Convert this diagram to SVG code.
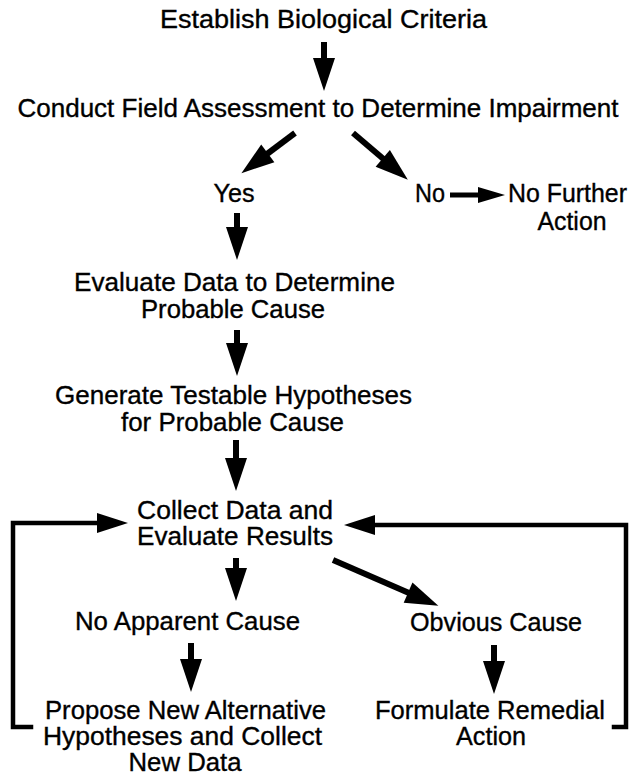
<svg xmlns="http://www.w3.org/2000/svg" width="636" height="776" viewBox="0 0 636 776">
  <defs>
    <style>
      text { font-family: "Liberation Sans", Arial, "Helvetica", sans-serif; font-size: 25.5px; fill: #000; stroke: #000; stroke-width: 0.35; text-anchor: middle; }
      .shaft { stroke: #000; stroke-width: 6; fill: none; stroke-linecap: butt; }
      .bracket { stroke: #000; stroke-width: 4.5; fill: none; stroke-linejoin: miter; stroke-linecap: square; }
    </style>
    <marker id="head" markerUnits="userSpaceOnUse" markerWidth="34" markerHeight="22" refX="1" refY="11" orient="auto" overflow="visible">
      <path d="M0,0 L33,11 L0,22 Z" fill="#000"/>
    </marker>
    <marker id="headB" markerUnits="userSpaceOnUse" markerWidth="32" markerHeight="20" refX="1" refY="10" orient="auto" overflow="visible">
      <path d="M0,0 L31,10 L0,20 Z" fill="#000"/>
    </marker>
    <marker id="headS" markerUnits="userSpaceOnUse" markerWidth="28" markerHeight="16" refX="1" refY="8" orient="auto" overflow="visible">
      <path d="M0,0 L27,8 L0,16 Z" fill="#000"/>
    </marker>
  </defs>

  <g id="connectors">
    <!-- Establish -> Conduct -->
    <line class="shaft" x1="324" y1="42" x2="324" y2="59" marker-end="url(#head)"/>
    <!-- Conduct -> Yes -->
    <line class="shaft" x1="295" y1="133" x2="267" y2="154" marker-end="url(#head)"/>
    <!-- Conduct -> No -->
    <line class="shaft" x1="353" y1="133" x2="383.5" y2="159" marker-end="url(#head)"/>
    <!-- No -> No Further Action -->
    <line class="shaft" x1="450" y1="195" x2="479" y2="195" marker-end="url(#headS)" style="stroke-width:5"/>
    <!-- Yes -> Evaluate -->
    <line class="shaft" x1="237" y1="213" x2="237" y2="228" marker-end="url(#head)"/>
    <!-- Evaluate -> Generate -->
    <line class="shaft" x1="237" y1="330" x2="237" y2="344" marker-end="url(#head)"/>
    <!-- Generate -> Collect -->
    <line class="shaft" x1="236" y1="440" x2="236" y2="459" marker-end="url(#head)"/>
    <!-- Collect -> No Apparent Cause -->
    <line class="shaft" x1="236" y1="558" x2="236" y2="569" marker-end="url(#head)"/>
    <!-- Collect -> Obvious Cause -->
    <line class="shaft" x1="333" y1="560" x2="409" y2="593" marker-end="url(#head)"/>
    <!-- No Apparent Cause -> Propose -->
    <line class="shaft" x1="191" y1="643" x2="191" y2="660" marker-end="url(#head)"/>
    <!-- Obvious Cause -> Formulate -->
    <line class="shaft" x1="494" y1="645" x2="494" y2="662" marker-end="url(#head)"/>
    <!-- Propose -> Collect (loop back, left) -->
    <polyline class="bracket" points="31,727 13,727 13,523 98,523" marker-end="url(#headB)"/>
    <!-- Formulate -> Collect (loop back, right) -->
    <polyline class="bracket" points="614,727 626,727 626,525 374,525" marker-end="url(#headB)"/>
  </g>

  <g id="establish"><text x="323.5" y="28" textLength="327" lengthAdjust="spacingAndGlyphs">Establish Biological Criteria</text></g>
  <g id="conduct"><text x="318" y="117" textLength="601" lengthAdjust="spacingAndGlyphs">Conduct Field Assessment to Determine Impairment</text></g>
  <g id="yes"><text x="234" y="202" textLength="41" lengthAdjust="spacingAndGlyphs">Yes</text></g>
  <g id="no"><text x="430" y="202" textLength="30" lengthAdjust="spacingAndGlyphs">No</text></g>
  <g id="no-further-action">
    <text x="567.5" y="202" textLength="119" lengthAdjust="spacingAndGlyphs">No Further</text>
    <text x="572" y="230" textLength="69" lengthAdjust="spacingAndGlyphs">Action</text>
  </g>
  <g id="evaluate-data">
    <text x="234.5" y="291" textLength="321" lengthAdjust="spacingAndGlyphs">Evaluate Data to Determine</text>
    <text x="233" y="318" textLength="184" lengthAdjust="spacingAndGlyphs">Probable Cause</text>
  </g>
  <g id="generate">
    <text x="233.5" y="404" textLength="357" lengthAdjust="spacingAndGlyphs">Generate Testable Hypotheses</text>
    <text x="232.5" y="431" textLength="223" lengthAdjust="spacingAndGlyphs">for Probable Cause</text>
  </g>
  <g id="collect">
    <text x="235" y="519" textLength="196" lengthAdjust="spacingAndGlyphs">Collect Data and</text>
    <text x="235" y="545" textLength="196" lengthAdjust="spacingAndGlyphs">Evaluate Results</text>
  </g>
  <g id="no-apparent-cause"><text x="187.5" y="630" textLength="225" lengthAdjust="spacingAndGlyphs">No Apparent Cause</text></g>
  <g id="obvious-cause"><text x="496" y="631" textLength="172" lengthAdjust="spacingAndGlyphs">Obvious Cause</text></g>
  <g id="propose">
    <text x="185.5" y="719" textLength="281" lengthAdjust="spacingAndGlyphs">Propose New Alternative</text>
    <text x="182.5" y="745" textLength="279" lengthAdjust="spacingAndGlyphs">Hypotheses and Collect</text>
    <text x="185" y="771" textLength="113" lengthAdjust="spacingAndGlyphs">New Data</text>
  </g>
  <g id="formulate">
    <text x="490" y="719" textLength="230" lengthAdjust="spacingAndGlyphs">Formulate Remedial</text>
    <text x="491" y="745" textLength="70" lengthAdjust="spacingAndGlyphs">Action</text>
  </g>
</svg>
